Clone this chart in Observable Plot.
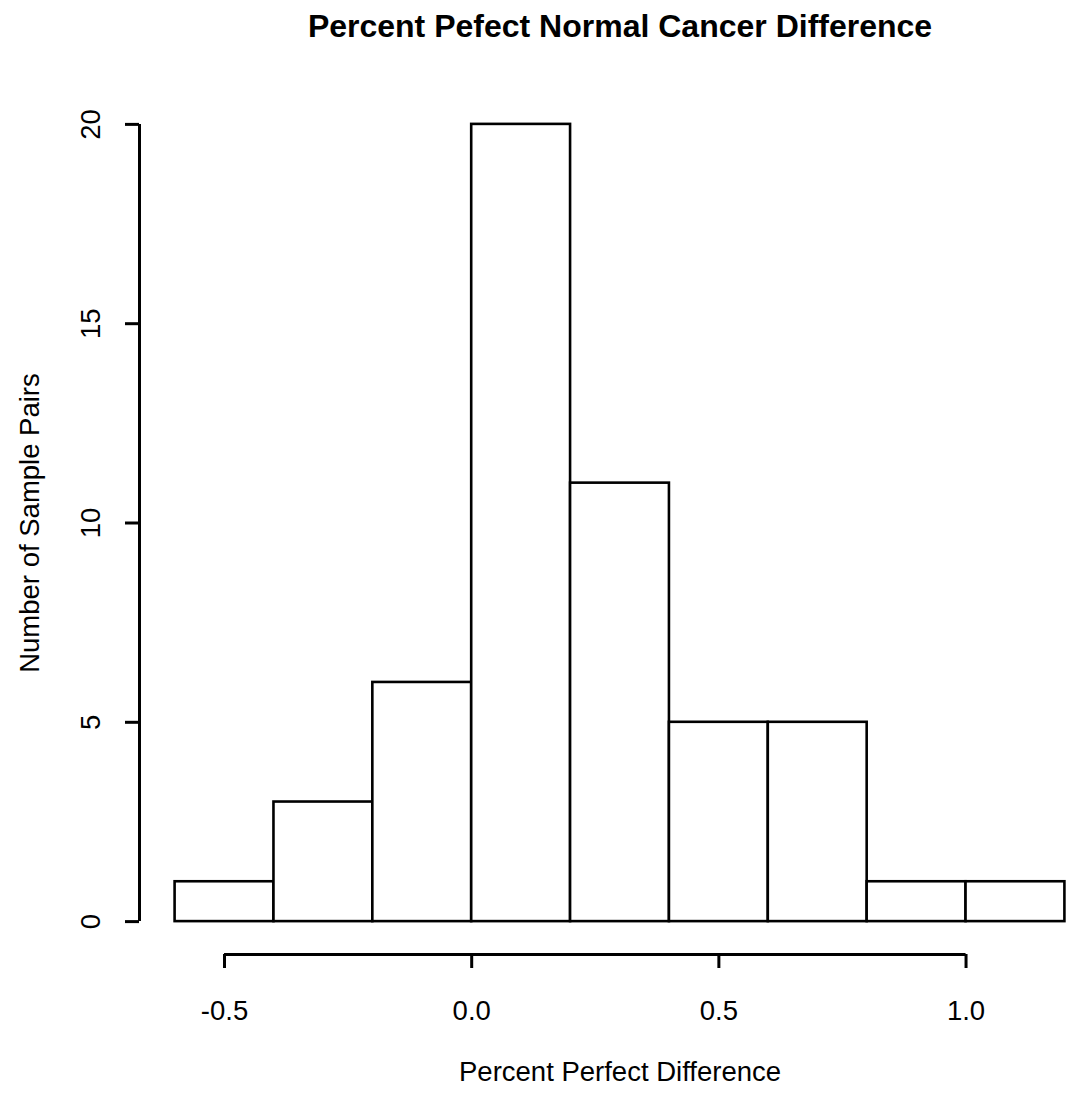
<!DOCTYPE html>
<html>
<head>
<meta charset="utf-8">
<script src="https://cdn.jsdelivr.net/npm/d3@7"></script>
<script src="https://cdn.jsdelivr.net/npm/@observablehq/plot@0.6"></script>
<style>
  html, body { margin: 0; padding: 0; background: #fff; }
  svg { display: block; }
</style>
</head>
<body>
<div id="chart"></div>
<script>
const binStarts = [-0.6, -0.4, -0.2, 0.0, 0.2, 0.4, 0.6, 0.8, 1.0];
const binWidth = 0.2;
const counts = [1, 3, 6, 20, 11, 5, 5, 1, 1];
const xTicks = [-0.5, 0.0, 0.5, 1.0];
const xTickLabels = ["-0.5", "0.0", "0.5", "1.0"];
const yTicks = [0, 5, 10, 15, 20];
const title = "Percent Pefect Normal Cancer Difference";
const xLabel = "Percent Perfect Difference";
const yLabel = "Number of Sample Pairs";

const bins = binStarts.map((s, i) => ({x1: s, x2: s + binWidth, count: counts[i]}));
const xMin = binStarts[0], xMax = binStarts[binStarts.length - 1] + binWidth;
const yMax = d3.max(counts);
const xPad = 0.04 * (xMax - xMin), yPad = 0.04 * yMax;
const xDomain = [xMin - xPad, xMax + xPad];
const yDomain = [0 - yPad, yMax + yPad];

const font = "Liberation Sans, Arial, Helvetica, sans-serif";
const fs = 27.5;

const chart = Plot.plot({
  width: 1069,
  height: 1093,
  marginLeft: 139,
  marginRight: -31,
  marginTop: 92,
  marginBottom: 140,
  style: {fontFamily: font, fontSize: fs + "px", color: "#000", background: "#fff", overflow: "visible"},
  x: {domain: xDomain},
  y: {domain: yDomain},
  marks: [
    Plot.rectY(bins, {x1: "x1", x2: "x2", y1: 0, y2: "count", fill: "white", stroke: "black", strokeWidth: 2.6}),
    Plot.ruleY([yDomain[0]], {x1: xTicks[0], x2: xTicks[xTicks.length - 1], stroke: "black", strokeWidth: 3, dy: 1}),
    Plot.ruleX([xDomain[0]], {y1: yTicks[0], y2: yTicks[yTicks.length - 1], stroke: "black", strokeWidth: 3}),
    Plot.axisX({ticks: xTicks, tickFormat: (d, i) => xTickLabels[i], tickSize: 14, tickPadding: 32, strokeWidth: 3, label: null, fontSize: fs, dy: 1}),
    Plot.axisY({ticks: yTicks, tickSize: 14, tickPadding: 26, tickRotate: -90, strokeWidth: 3, label: null, fontSize: fs}),
    Plot.text([title], {frameAnchor: "top", dy: -78, fontSize: 32, fontWeight: "bold", fill: "black"}),
    Plot.text([xLabel], {frameAnchor: "bottom", dy: 127, fontSize: fs, fill: "black"}),
    Plot.text([yLabel], {frameAnchor: "left", dx: -109, rotate: -90, textAnchor: "middle", fontSize: fs, fill: "black"})
  ]
});
document.getElementById("chart").appendChild(chart);
</script>
</body>
</html>
